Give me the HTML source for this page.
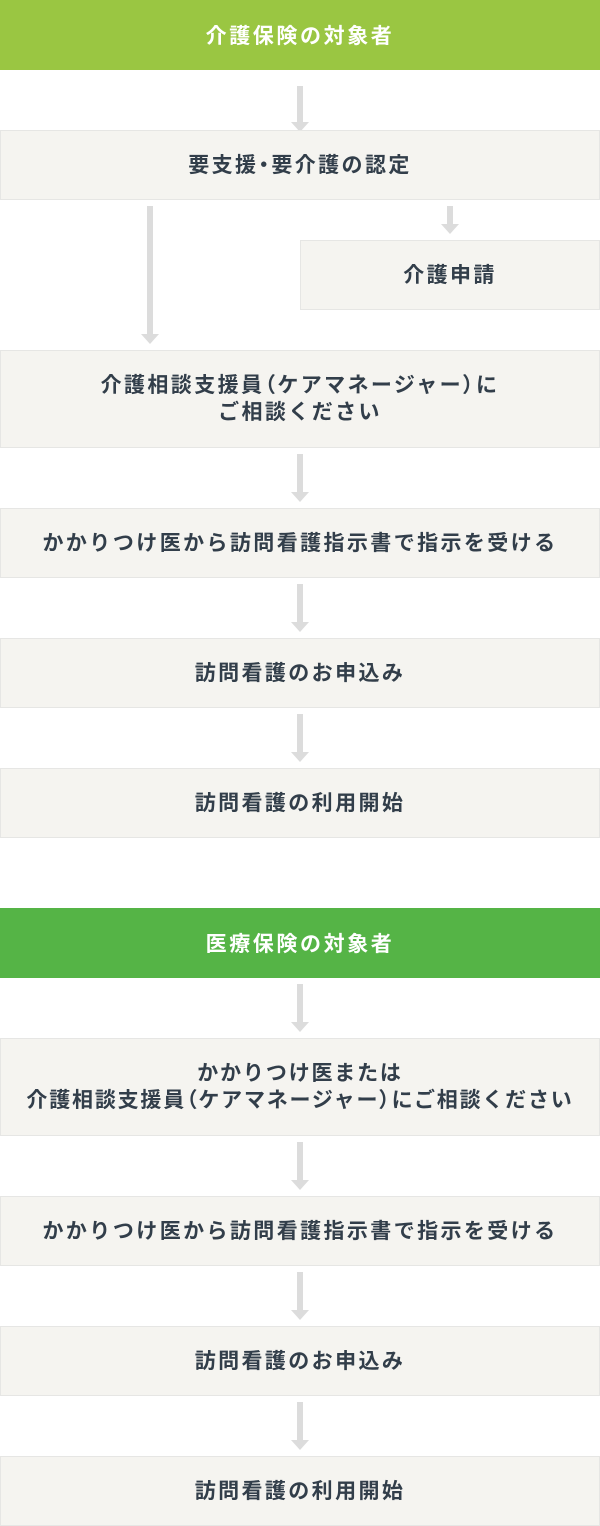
<!DOCTYPE html>
<html><head><meta charset="utf-8"><style>
body{margin:0;width:600px;height:1526px;background:#fff;position:relative;font-family:"Liberation Sans","Noto Sans CJK JP",sans-serif;overflow:hidden}
.b{position:absolute;left:0;width:598px;border:1px solid #e6e6e4;background:#f5f4f0;color:#323e4a;font-size:21px;font-weight:700;letter-spacing:2.4px;text-align:center;display:flex;align-items:center;justify-content:center;line-height:27px;box-sizing:content-box}
.b>div{width:100%}
.h{position:absolute;left:0;width:600px;height:70px;color:#fff;font-size:21px;font-weight:700;letter-spacing:2.6px;display:flex;align-items:center;justify-content:center}
.p{font-feature-settings:"palt";}
.a{position:absolute;width:6px;background:#dcdcdc}
.a:after{content:"";position:absolute;left:-6px;bottom:-10px;border-left:9px solid transparent;border-right:9px solid transparent;border-top:10px solid #dcdcdc}
</style></head><body>
<div class="h" style="top:0;background:#9ac642">介護保険の対象者</div>
<div class="a" style="left:297px;top:86px;height:36px"></div>
<div class="b" style="top:130px;height:68px"><div>要支援<span class="p">・</span>要介護の認定</div></div>
<div class="a" style="left:147px;top:206px;height:128px"></div>
<div class="a" style="left:447px;top:206px;height:18px"></div>
<div class="b" style="top:240px;left:300px;width:298px;height:68px"><div>介護申請</div></div>
<div class="b" style="top:350px;height:96px"><div>介護相談支援員<span class="p">（</span>ケアマネージャー<span class="p">）</span>に<br>ご相談ください</div></div>
<div class="a" style="left:297px;top:454px;height:38px"></div>
<div class="b" style="top:508px;height:68px"><div>かかりつけ医から訪問看護指示書で指示を受ける</div></div>
<div class="a" style="left:297px;top:584px;height:38px"></div>
<div class="b" style="top:638px;height:68px"><div>訪問看護のお申込み</div></div>
<div class="a" style="left:297px;top:714px;height:38px"></div>
<div class="b" style="top:768px;height:68px"><div>訪問看護の利用開始</div></div>
<div class="h" style="top:908px;background:#55b446">医療保険の対象者</div>
<div class="a" style="left:297px;top:984px;height:38px"></div>
<div class="b" style="top:1038px;height:96px;letter-spacing:1.8px"><div>かかりつけ医または<br>介護相談支援員<span class="p">（</span>ケアマネージャー<span class="p">）</span>にご相談ください</div></div>
<div class="a" style="left:297px;top:1142px;height:38px"></div>
<div class="b" style="top:1196px;height:68px"><div>かかりつけ医から訪問看護指示書で指示を受ける</div></div>
<div class="a" style="left:297px;top:1272px;height:38px"></div>
<div class="b" style="top:1326px;height:68px"><div>訪問看護のお申込み</div></div>
<div class="a" style="left:297px;top:1402px;height:38px"></div>
<div class="b" style="top:1456px;height:68px"><div>訪問看護の利用開始</div></div>
</body></html>
